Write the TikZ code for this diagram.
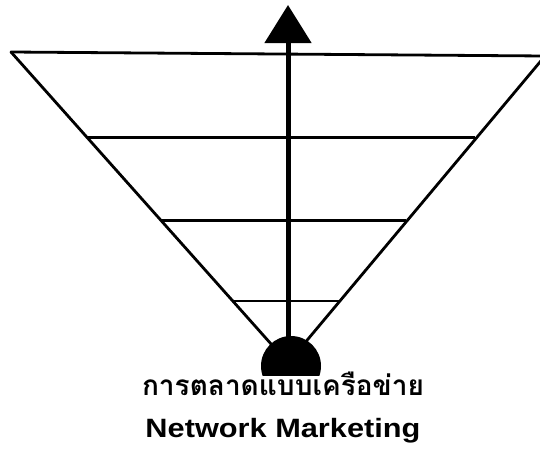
\documentclass[tikz,border=0pt]{standalone}
\usepackage{fontspec}
\setmainfont{Liberation Sans}
\newfontfamily\thaifont[Script=Thai]{Loma}
\newfontfamily\widefont[FakeStretch=1.16]{Liberation Sans}
\usetikzlibrary{arrows.meta, positioning, calc}

\begin{document}
\begin{tikzpicture}[
    x=1pt, y=-1pt,
    edge/.style={draw=black, line width=2.8pt, line cap=round},
    level/.style={draw=black, line width=2.6pt},
    shaft/.style={draw=black, line width=5pt, -{Triangle[length=38pt, width=46pt]}},
    hub/.style={circle, fill=black, minimum size=60pt, inner sep=0pt},
    thaicap/.style={font=\thaifont\bfseries\fontsize{28}{32}\selectfont, inner sep=0pt, anchor=base},
    engcap/.style={font=\widefont\bfseries\fontsize{26.5}{30}\selectfont, inner sep=0pt, anchor=base},
  ]
    \useasboundingbox (0,0) rectangle (540,450);

    % funnel outline
    \coordinate (tl) at (11,52);
    \coordinate (tr) at (545,56);
    \coordinate (apex) at (288,363);
    \draw[edge] (tl) -- (tr);
    \draw[edge] (tl) -- (apex);
    \draw[edge] (tr) -- (apex);

    % levels
    \foreach \t/\name in {0.274/a, 0.541/b, 0.801/c} {
      \coordinate (\name l) at ($(tl)!\t!(apex)$);
      \coordinate (\name r) at ($(tr)!\t!(apex)$);
      \draw[level] (\name l) -- (\name r |- \name l);
    }

    % hub and arrow
    \begin{scope}
      \clip (0,0) rectangle (540,375);
      \node[hub] (hub) at (291,366) {};
    \end{scope}
    \coordinate (tip) at (288,5);
    \draw[shaft] (hub.center -| tip) -- (tip);

    \node[thaicap] (thai) at (283,395) {การตลาดแบบเครือข่าย};
    \node[engcap] (eng) at (283,437) {Network Marketing};
  \end{tikzpicture}
\end{document}
